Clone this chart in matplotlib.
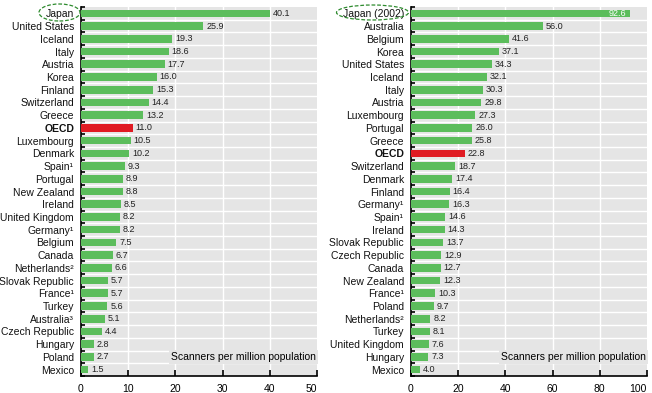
import matplotlib
matplotlib.use("Agg")
import matplotlib.pyplot as plt
from matplotlib.patches import Ellipse
import numpy as np

plt.rcParams['font.family'] = ['Liberation Sans', 'DejaVu Sans']

# Левая панель
left_countries = ["Japan", "United States", "Iceland", "Italy", "Austria", "Korea",
                  "Finland", "Switzerland", "Greece", "OECD", "Luxembourg", "Denmark",
                  "Spain¹", "Portugal", "New Zealand", "Ireland", "United Kingdom",
                  "Germany¹", "Belgium", "Canada", "Netherlands²", "Slovak Republic",
                  "France¹", "Turkey", "Australia³", "Czech Republic", "Hungary",
                  "Poland", "Mexico"]
left_values = [40.1, 25.9, 19.3, 18.6, 17.7, 16.0, 15.3, 14.4, 13.2, 11.0, 10.5, 10.2,
               9.3, 8.9, 8.8, 8.5, 8.2, 8.2, 7.5, 6.7, 6.6, 5.7, 5.7, 5.6, 5.1, 4.4,
               2.8, 2.7, 1.5]
left_ticks = [0, 10, 20, 30, 40, 50]

# Правая панель
right_countries = ["Japan (2002)", "Australia", "Belgium", "Korea", "United States",
                   "Iceland", "Italy", "Austria", "Luxembourg", "Portugal", "Greece",
                   "OECD", "Switzerland", "Denmark", "Finland", "Germany¹", "Spain¹",
                   "Ireland", "Slovak Republic", "Czech Republic", "Canada",
                   "New Zealand", "France¹", "Poland", "Netherlands²", "Turkey",
                   "United Kingdom", "Hungary", "Mexico"]
right_values = [92.6, 56.0, 41.6, 37.1, 34.3, 32.1, 30.3, 29.8, 27.3, 26.0, 25.8, 22.8,
                18.7, 17.4, 16.4, 16.3, 14.6, 14.3, 13.7, 12.9, 12.7, 12.3, 10.3, 9.7,
                8.2, 8.1, 7.6, 7.3, 4.0]
right_ticks = [0, 20, 40, 60, 80, 100]

unit_label = "Scanners per million population"

GREEN = "#5cbd5c"
RED = "#e01b23"
BG = "#e5e5e5"

fig = plt.figure(figsize=(6.52, 3.93), dpi=100)
W, H = 652, 393


def panel(rect, names, vals, ticks, inside_first):
    ax = fig.add_axes(rect)
    n = len(names)
    y = np.arange(n)
    ax.set_facecolor(BG)
    colors = [RED if c == "OECD" else GREEN for c in names]
    ax.barh(y, vals, height=0.6, color=colors, zorder=3)
    xmax = ticks[-1]
    ax.set_xlim(0, xmax)
    ax.set_ylim(n - 0.5, -0.5)
    # белые разделители строк и вертикальная сетка
    for b in np.arange(0.5, n - 0.5, 1):
        ax.axhline(b, color="white", lw=1.0, zorder=1)
    for t in ticks[1:-1]:
        ax.axvline(t, color="white", lw=1.0, zorder=1)
    ax.set_yticks(np.arange(-0.5, n, 1), minor=True)
    ax.set_yticks(y)
    ax.set_yticklabels(names, fontsize=7.5, color="#111111")
    for lab in ax.get_yticklabels():
        if lab.get_text() == "OECD":
            lab.set_fontweight("bold")
    ax.tick_params(axis="y", which="major", length=0, pad=5)
    ax.tick_params(axis="y", which="minor", length=3, direction="in", width=1.2)
    ax.set_xticks(ticks)
    ax.set_xticklabels([str(t) for t in ticks], fontsize=7.5)
    ax.tick_params(axis="x", length=4, direction="in", width=1.2, pad=6)
    # последняя подпись оси прижата к правому краю
    ax.get_xticklabels()[-1].set_horizontalalignment("right")
    for s in ["top", "right"]:
        ax.spines[s].set_visible(False)
    for s in ["left", "bottom"]:
        ax.spines[s].set_linewidth(1.2)
    off = xmax * 0.012
    for i, v in enumerate(vals):
        if i == 0 and inside_first:
            ax.text(v - off, i, "%.1f" % v, va="center", ha="right",
                    fontsize=6.5, color="white", zorder=4)
        else:
            ax.text(v + off, i, "%.1f" % v, va="center", ha="left",
                    fontsize=6.5, color="#222222", zorder=4)
    ax.text(xmax * 0.995, n - 2, unit_label, ha="right", va="center", fontsize=7.5,
            zorder=5, bbox=dict(facecolor=BG, edgecolor="none", pad=1.5))
    return ax


ax1 = panel([81 / W, 17 / H, 236 / W, 369 / H], left_countries, left_values,
            left_ticks, False)
ax2 = panel([411 / W, 17 / H, 236 / W, 369 / H], right_countries, right_values,
            right_ticks, True)

# обводка Японии
for cx, cy, ew, eh in [(59.5, 12.5, 41, 17), (372.5, 12.5, 72, 15)]:
    e = Ellipse((cx / W, 1 - cy / H), ew / W, eh / H, transform=fig.transFigure,
                fill=False, edgecolor="#2e8b2e", lw=0.9, ls=(0, (3, 1.5)))
    fig.patches.append(e)

fig.savefig("out.png", dpi=100)
